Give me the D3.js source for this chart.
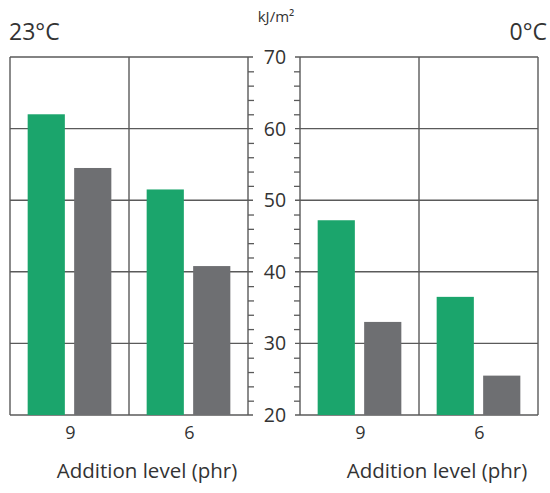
<!DOCTYPE html>
<html>
<head>
<meta charset="utf-8">
<script src="https://cdn.jsdelivr.net/npm/d3@7"></script>
<style>
  body { margin: 0; background: #fff; }
  text { font-family: "Open Sans", Lato, sans-serif; fill: #333; }
</style>
</head>
<body>
<svg id="chart" width="550" height="493"></svg>
<script>
// data
const panels = ["23°C", "0°C"];
const levels = ["9", "6"];
const greenVals = [[62.0, 51.5], [47.2, 36.5]]; // per panel, per level
const greyVals = [[54.5, 40.8], [33.0, 25.5]];
const majorTicks = [20, 30, 40, 50, 60, 70];
const minorTicks = d3.range(22, 70, 2).filter(d => d % 10 !== 0);
const unitLabel = "kJ/m²";
const xTitle = "Addition level (phr)";

const svg = d3.select("#chart");
const green = "#1ba56c", grey = "#6e6f72", lineCol = "#5a5a5a";

const y = d3.scaleLinear().domain([20, 70]).range([415, 57]);
const panelX = [[10, 248], [300, 538]];

panels.forEach((name, p) => {
  const [x0, x1] = panelX[p];
  const x = d3.scaleBand().domain(levels).range([x0, x1]);
  const inner = d3.scaleBand().domain(["g", "r"]).range([0, x.bandwidth()])
    .paddingInner(0.2).paddingOuter(0.38);
  const g = svg.append("g");

  // horizontal grid (major values)
  g.selectAll("line.grid").data(majorTicks).join("line")
    .attr("x1", p === 0 ? x0 : x0 - 5).attr("x2", p === 0 ? x1 + 5 : x1)
    .attr("y1", d => y(d)).attr("y2", d => y(d))
    .attr("stroke", lineCol).attr("stroke-width", 1.4);

  // bars
  levels.forEach((lv, i) => {
    g.append("rect")
      .attr("x", x(lv) + inner("g")).attr("width", inner.bandwidth())
      .attr("y", y(greenVals[p][i])).attr("height", y(20) - y(greenVals[p][i]))
      .attr("fill", green);
    g.append("rect")
      .attr("x", x(lv) + inner("r")).attr("width", inner.bandwidth())
      .attr("y", y(greyVals[p][i])).attr("height", y(20) - y(greyVals[p][i]))
      .attr("fill", grey);
  });

  // vertical frame lines
  [x0, x0 + x.bandwidth(), x1].forEach(vx => {
    g.append("line").attr("x1", vx).attr("x2", vx)
      .attr("y1", y(70)).attr("y2", y(20))
      .attr("stroke", lineCol).attr("stroke-width", 1.4);
  });

  // category labels
  g.selectAll("text.cat").data(levels).join("text")
    .attr("x", d => x(d) + x.bandwidth() / 2 + 1).attr("y", 439)
    .attr("text-anchor", "middle").attr("font-size", 18).text(d => d);

  g.append("text").attr("x", (x0 + x1) / 2 + 18).attr("y", 478)
    .attr("text-anchor", "middle").attr("font-size", 20.5).text(xTitle);

  g.append("text")
    .attr("x", p === 0 ? 9 : 547).attr("y", 40)
    .attr("text-anchor", p === 0 ? "start" : "end")
    .attr("font-size", 23).text(name);
});

// minor ticks on the two axis lines
svg.append("g").attr("transform", "translate(248,0)")
  .call(d3.axisRight(y).tickValues(minorTicks).tickSize(6).tickFormat(""))
  .call(a => a.select(".domain").remove())
  .selectAll("line").attr("stroke", lineCol).attr("stroke-width", 1.3);
svg.append("g").attr("transform", "translate(300,0)")
  .call(d3.axisLeft(y).tickValues(minorTicks).tickSize(6).tickFormat(""))
  .call(a => a.select(".domain").remove())
  .selectAll("line").attr("stroke", lineCol).attr("stroke-width", 1.3);

// value labels in the middle
svg.append("g").selectAll("text").data(majorTicks).join("text")
  .attr("x", 275).attr("y", d => y(d) + 7)
  .attr("text-anchor", "middle").attr("font-size", 19.5).text(d => d);

svg.append("text").attr("x", 276).attr("y", 22)
  .attr("text-anchor", "middle").attr("font-size", 15).text(unitLabel);
</script>
</body>
</html>
